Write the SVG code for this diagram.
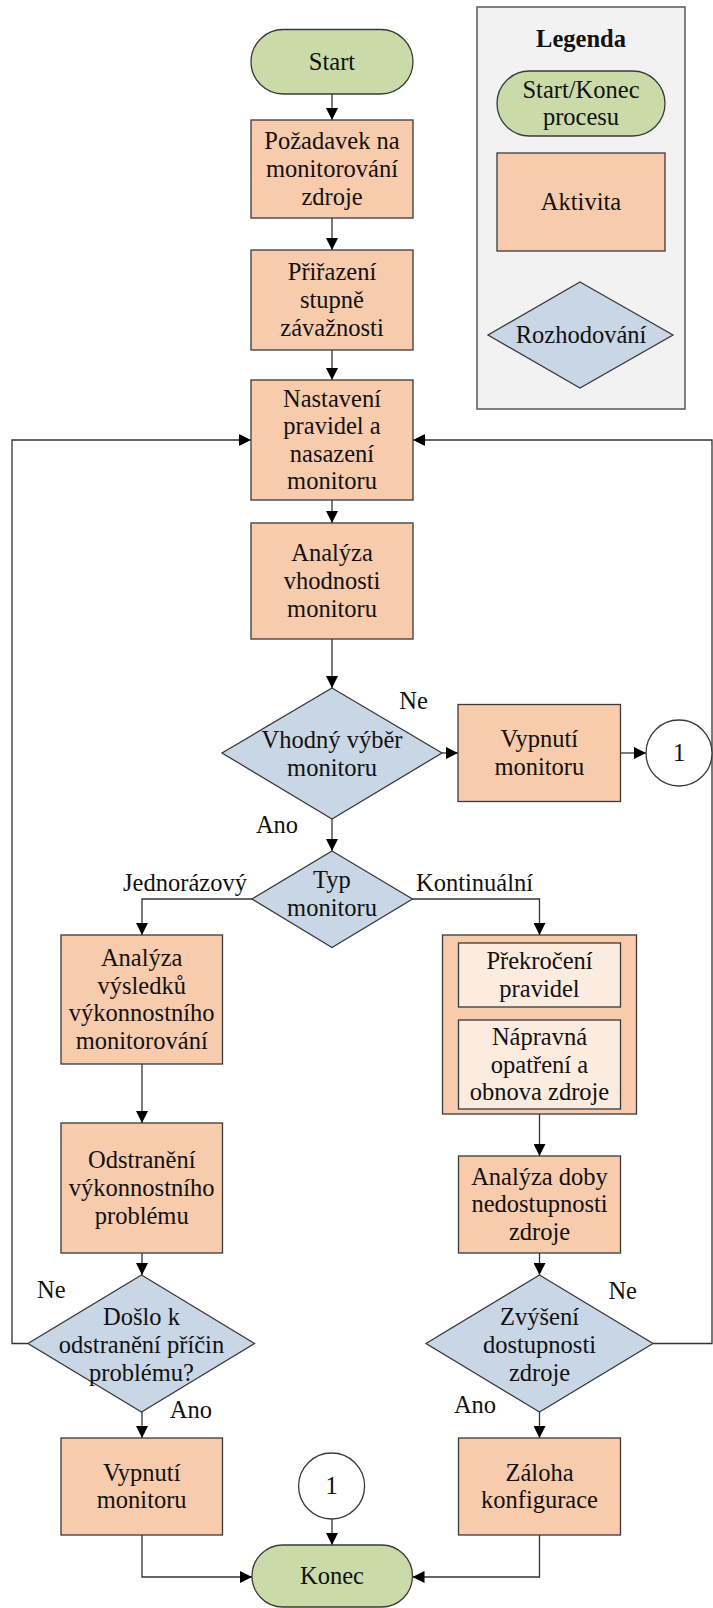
<svg xmlns="http://www.w3.org/2000/svg" width="713" height="1608" viewBox="0 0 713 1608">
  <defs>
    <marker id="arrow" markerUnits="userSpaceOnUse" markerWidth="12" markerHeight="12" refX="12" refY="6" orient="auto">
      <path d="M0,0 L12,6 L0,12 z" fill="#000"/>
    </marker>
    <style>
      text { font-family: "Liberation Serif", "Times New Roman", serif; font-size: 24.5px; fill: #111; text-anchor: middle; }
      .bold { font-weight: bold; }
      .terminal { fill: #CADBA9; stroke: #3a3a3a; stroke-width: 1.3; }
      .activity { fill: #F8CBAD; stroke: #3a3a3a; stroke-width: 1.3; }
      .inner { fill: #FCEBDF; stroke: #3a3a3a; stroke-width: 1.3; }
      .decision { fill: #C8D6E6; stroke: #3a3a3a; stroke-width: 1.3; }
      .connector { fill: #fff; stroke: #3a3a3a; stroke-width: 1.3; }
      .legend { fill: #F2F2F2; stroke: #595959; stroke-width: 1.5; }
      .flow { fill: none; stroke: #333; stroke-width: 1.3; }
      .flow.arrow { marker-end: url(#arrow); }
    </style>
  </defs>

  <rect width="713" height="1608" fill="#fff"/>

  <!-- Legend -->
  <g id="legend">
    <rect class="legend" x="477" y="7" width="208" height="402"/>
    <text class="bold" x="581" y="47">Legenda</text>
    <rect class="terminal" x="497" y="71" width="168" height="65" rx="32.5"/>
    <text x="581"><tspan x="581" y="97.7">Start/Konec</tspan><tspan x="581" y="125.3">procesu</tspan></text>
    <rect class="activity" x="497" y="153" width="168" height="98"/>
    <text x="581" y="210">Aktivita</text>
    <polygon class="decision" points="580,282 673,335 580,388 488,335"/>
    <text x="581" y="343">Rozhodování</text>
  </g>

  <!-- Connectors -->
  <g id="connectors">
    <line class="flow arrow" x1="332" y1="94" x2="332" y2="120"/>
    <line class="flow arrow" x1="332" y1="218" x2="332" y2="250"/>
    <line class="flow arrow" x1="332" y1="350" x2="332" y2="380"/>
    <line class="flow arrow" x1="332" y1="500" x2="332" y2="523"/>
    <line class="flow arrow" x1="332" y1="639" x2="332" y2="688"/>
    <line class="flow arrow" x1="442" y1="753" x2="458" y2="753"/>
    <line class="flow arrow" x1="621" y1="753" x2="646" y2="753"/>
    <line class="flow arrow" x1="332" y1="819" x2="332" y2="851"/>
    <polyline class="flow arrow" points="252,899 142,899 142,935"/>
    <polyline class="flow arrow" points="412.5,899 539.5,899 539.5,935"/>
    <line class="flow arrow" x1="142" y1="1064" x2="142" y2="1123"/>
    <line class="flow arrow" x1="142" y1="1253" x2="142" y2="1275"/>
    <line class="flow arrow" x1="142" y1="1412" x2="142" y2="1438"/>
    <polyline class="flow arrow" points="142,1535 142,1577 252,1577"/>
    <line class="flow arrow" x1="332" y1="1519" x2="332" y2="1545"/>
    <line class="flow arrow" x1="539.5" y1="1114" x2="539.5" y2="1156"/>
    <line class="flow arrow" x1="539.5" y1="1253" x2="539.5" y2="1275"/>
    <line class="flow arrow" x1="539.5" y1="1412" x2="539.5" y2="1438"/>
    <polyline class="flow arrow" points="539.5,1535 539.5,1577 412.5,1577"/>
    <polyline class="flow arrow" points="28,1343.5 12,1343.5 12,440 251,440"/>
    <polyline class="flow arrow" points="653,1343.5 712,1343.5 712,440 413,440"/>
  </g>

  <!-- Branch labels -->
  <g id="labels">
    <text x="413.5" y="709">Ne</text>
    <text x="277" y="833">Ano</text>
    <text x="185" y="891">Jednorázový</text>
    <text x="474.5" y="891">Kontinuální</text>
    <text x="51.3" y="1298">Ne</text>
    <text x="190.8" y="1418">Ano</text>
    <text x="622.7" y="1298.6">Ne</text>
    <text x="475" y="1413">Ano</text>
  </g>

  <g id="start">
    <rect class="terminal" x="251" y="29.5" width="162" height="64.5" rx="32.25"/>
    <text x="332" y="69.8">Start</text>
  </g>

  <g id="pozadavek">
    <rect class="activity" x="251" y="120" width="162" height="98"/>
    <text><tspan x="332" y="149.4">Požadavek na</tspan><tspan x="332" y="177">monitorování</tspan><tspan x="332" y="204.6">zdroje</tspan></text>
  </g>

  <g id="prirazeni">
    <rect class="activity" x="251" y="250" width="162" height="100"/>
    <text><tspan x="332" y="280.4">Přiřazení</tspan><tspan x="332" y="308">stupně</tspan><tspan x="332" y="335.6">závažnosti</tspan></text>
  </g>

  <g id="nastaveni">
    <rect class="activity" x="251" y="380" width="162" height="120"/>
    <text><tspan x="332" y="406.6">Nastavení</tspan><tspan x="332" y="434.2">pravidel a</tspan><tspan x="332" y="461.8">nasazení</tspan><tspan x="332" y="489.4">monitoru</tspan></text>
  </g>

  <g id="analyza-vhodnosti">
    <rect class="activity" x="251" y="523" width="162" height="116"/>
    <text><tspan x="332" y="561.4">Analýza</tspan><tspan x="332" y="589">vhodnosti</tspan><tspan x="332" y="616.6">monitoru</tspan></text>
  </g>

  <g id="vhodny-vyber">
    <polygon class="decision" points="332,688 442,753 332,819 222,753"/>
    <text><tspan x="332" y="748.2">Vhodný výběr</tspan><tspan x="332" y="775.8">monitoru</tspan></text>
  </g>

  <g id="vypnuti-1">
    <rect class="activity" x="458" y="704.5" width="162.5" height="97"/>
    <text><tspan x="539.3" y="747.2">Vypnutí</tspan><tspan x="539.3" y="774.8">monitoru</tspan></text>
  </g>

  <g id="spojka-1a">
    <circle class="connector" cx="679" cy="753" r="33"/>
    <text x="679" y="761">1</text>
  </g>

  <g id="typ-monitoru">
    <polygon class="decision" points="332,851 412.5,899 332,947.5 252,899"/>
    <text><tspan x="332" y="888.2">Typ</tspan><tspan x="332" y="915.8">monitoru</tspan></text>
  </g>

  <g id="analyza-vysledku">
    <rect class="activity" x="61" y="935" width="161.5" height="129"/>
    <text><tspan x="141.7" y="965.9">Analýza</tspan><tspan x="141.7" y="993.5">výsledků</tspan><tspan x="141.7" y="1021.1">výkonnostního</tspan><tspan x="141.7" y="1048.7">monitorování</tspan></text>
  </g>

  <g id="kontinualni-blok">
    <rect class="activity" x="442.5" y="935" width="194" height="179"/>
    <rect class="inner" x="458.5" y="943" width="162" height="64"/>
    <text><tspan x="539.5" y="969.2">Překročení</tspan><tspan x="539.5" y="996.8">pravidel</tspan></text>
    <rect class="inner" x="458.5" y="1020" width="162" height="89"/>
    <text><tspan x="539.5" y="1044.9">Nápravná</tspan><tspan x="539.5" y="1072.5">opatření a</tspan><tspan x="539.5" y="1100.1">obnova zdroje</tspan></text>
  </g>

  <g id="odstraneni">
    <rect class="activity" x="61" y="1123" width="161.5" height="130"/>
    <text><tspan x="141.7" y="1168.4">Odstranění</tspan><tspan x="141.7" y="1196">výkonnostního</tspan><tspan x="141.7" y="1223.6">problému</tspan></text>
  </g>

  <g id="analyza-doby">
    <rect class="activity" x="458.5" y="1156" width="162" height="97"/>
    <text><tspan x="539.5" y="1184.6">Analýza doby</tspan><tspan x="539.5" y="1212.2">nedostupnosti</tspan><tspan x="539.5" y="1239.8">zdroje</tspan></text>
  </g>

  <g id="doslo-k-odstraneni">
    <polygon class="decision" points="141.5,1275 254.5,1343.5 141.5,1412 28,1343.5"/>
    <text><tspan x="141.5" y="1325.4">Došlo k</tspan><tspan x="141.5" y="1353">odstranění příčin</tspan><tspan x="141.5" y="1380.6">problému?</tspan></text>
  </g>

  <g id="zvyseni-dostupnosti">
    <polygon class="decision" points="539.5,1275 653,1343.5 539.5,1412 426,1343.5"/>
    <text><tspan x="539.5" y="1325.4">Zvýšení</tspan><tspan x="539.5" y="1353">dostupnosti</tspan><tspan x="539.5" y="1380.6">zdroje</tspan></text>
  </g>

  <g id="vypnuti-2">
    <rect class="activity" x="61" y="1438" width="161.5" height="97"/>
    <text><tspan x="141.7" y="1480.7">Vypnutí</tspan><tspan x="141.7" y="1508.3">monitoru</tspan></text>
  </g>

  <g id="zaloha">
    <rect class="activity" x="458.5" y="1438" width="162" height="97"/>
    <text><tspan x="539.5" y="1480.7">Záloha</tspan><tspan x="539.5" y="1508.3">konfigurace</tspan></text>
  </g>

  <g id="spojka-1b">
    <circle class="connector" cx="331.6" cy="1486" r="33"/>
    <text x="331.6" y="1494">1</text>
  </g>

  <g id="konec">
    <rect class="terminal" x="252" y="1545" width="160.5" height="62" rx="31"/>
    <text x="332" y="1583.5">Konec</text>
  </g>
</svg>
